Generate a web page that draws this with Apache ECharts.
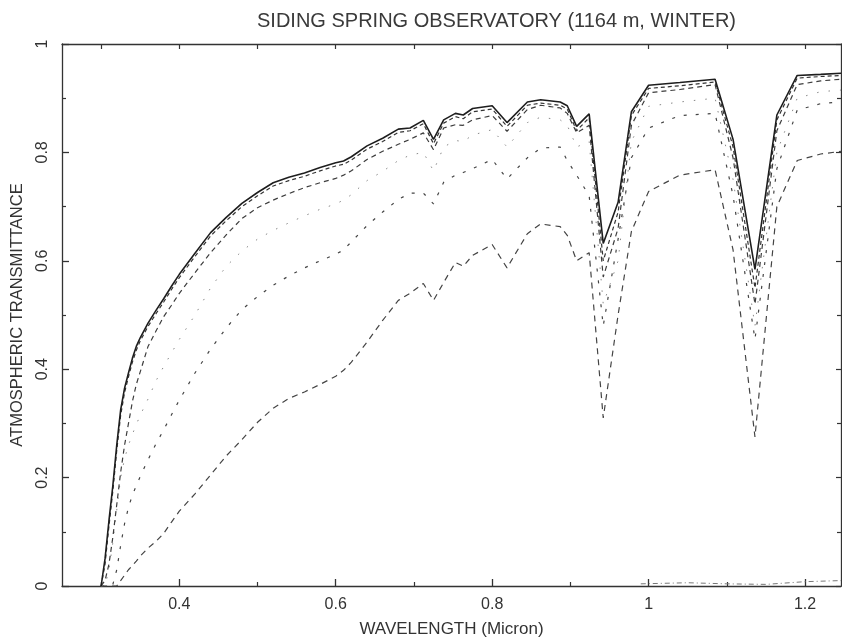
<!DOCTYPE html>
<html>
<head>
<meta charset="utf-8">
<script src="https://cdn.jsdelivr.net/npm/echarts@6/dist/echarts.min.js"></script>
<style>
  html, body { margin: 0; padding: 0; background: #fff; }
  #chart { width: 842px; height: 643px; }
</style>
</head>
<body>
<div id="chart"></div>
<script>
// ---- data ----
const titleText = 'SIDING SPRING OBSERVATORY (1164 m, WINTER)';
const xAxisTitle = 'WAVELENGTH (Micron)';
const yAxisTitle = 'ATMOSPHERIC TRANSMITTANCE';

const xMajorTicks = [0.4, 0.6, 0.8, 1.0, 1.2];
const xMinorTicks = [0.3, 0.5, 0.7, 0.9, 1.1];

// common wavelength grid (micron)
const wavelength = [
  0.300, 0.305, 0.310, 0.315, 0.320, 0.325, 0.330, 0.335, 0.340, 0.345,
  0.350, 0.360, 0.370, 0.380, 0.390, 0.400, 0.420, 0.440, 0.460, 0.480,
  0.500, 0.520, 0.540, 0.560, 0.580, 0.600, 0.610, 0.620, 0.640, 0.660,
  0.680, 0.695, 0.712, 0.725, 0.738, 0.753, 0.763, 0.775, 0.800, 0.819,
  0.845, 0.862, 0.887, 0.896, 0.908, 0.924, 0.942, 0.961, 0.978, 1.000,
  1.040, 1.085, 1.108, 1.136, 1.164, 1.190, 1.220, 1.246
];

// solid curve (top)
const curveA = [
  0.000, 0.050, 0.120, 0.185, 0.260, 0.325, 0.365, 0.393, 0.420, 0.442,
  0.458, 0.485, 0.508, 0.530, 0.553, 0.575, 0.614, 0.652, 0.680, 0.706,
  0.726, 0.744, 0.754, 0.762, 0.772, 0.781, 0.784, 0.792, 0.812, 0.826,
  0.843, 0.845, 0.859, 0.824, 0.860, 0.872, 0.869, 0.881, 0.886, 0.855,
  0.893, 0.897, 0.893, 0.886, 0.848, 0.871, 0.632, 0.708, 0.875, 0.924,
  0.929, 0.935, 0.824, 0.584, 0.869, 0.942, 0.944, 0.946
];
// dashed, hugging the solid
const curveB = [
  0.000, 0.040, 0.110, 0.175, 0.250, 0.315, 0.357, 0.386, 0.413, 0.435,
  0.452, 0.479, 0.502, 0.524, 0.547, 0.569, 0.608, 0.646, 0.674, 0.700,
  0.720, 0.738, 0.748, 0.756, 0.766, 0.775, 0.778, 0.786, 0.806, 0.820,
  0.837, 0.840, 0.853, 0.816, 0.854, 0.866, 0.862, 0.875, 0.880, 0.848,
  0.887, 0.891, 0.887, 0.880, 0.840, 0.864, 0.600, 0.690, 0.868, 0.918,
  0.923, 0.930, 0.810, 0.550, 0.860, 0.937, 0.940, 0.942
];
// dashed, slightly lower
const curveC = [
  0.000, 0.010, 0.040, 0.090, 0.150, 0.210, 0.260, 0.300, 0.340, 0.372,
  0.395, 0.442, 0.470, 0.497, 0.518, 0.540, 0.578, 0.615, 0.648, 0.678,
  0.698, 0.712, 0.724, 0.735, 0.744, 0.752, 0.758, 0.766, 0.787, 0.802,
  0.815, 0.824, 0.836, 0.805, 0.845, 0.851, 0.850, 0.860, 0.868, 0.839,
  0.879, 0.887, 0.882, 0.872, 0.836, 0.850, 0.570, 0.660, 0.850, 0.910,
  0.916, 0.925, 0.790, 0.520, 0.840, 0.925, 0.932, 0.935
];
// sparse dotted curve
const curveX = [
  0.000, 0.000, 0.030, 0.080, 0.140, 0.200, 0.235, 0.260, 0.280, 0.298,
  0.315, 0.345, 0.378, 0.405, 0.430, 0.455, 0.500, 0.550, 0.590, 0.618,
  0.640, 0.656, 0.670, 0.683, 0.695, 0.705, 0.712, 0.722, 0.748, 0.765,
  0.785, 0.795, 0.800, 0.766, 0.810, 0.822, 0.820, 0.832, 0.842, 0.810,
  0.855, 0.865, 0.860, 0.850, 0.810, 0.820, 0.520, 0.600, 0.820, 0.885,
  0.893, 0.900, 0.750, 0.480, 0.800, 0.900, 0.912, 0.915
];
// dashed, middle
const curveD = [
  0.000, 0.000, 0.000, 0.003, 0.030, 0.075, 0.115, 0.145, 0.168, 0.185,
  0.202, 0.233, 0.262, 0.288, 0.316, 0.343, 0.393, 0.437, 0.476, 0.510,
  0.534, 0.555, 0.572, 0.587, 0.600, 0.612, 0.620, 0.635, 0.665, 0.690,
  0.713, 0.725, 0.725, 0.705, 0.745, 0.758, 0.763, 0.770, 0.787, 0.751,
  0.790, 0.808, 0.810, 0.785, 0.758, 0.720, 0.480, 0.640, 0.790, 0.845,
  0.868, 0.872, 0.720, 0.455, 0.770, 0.878, 0.890, 0.893
];
// dashed, lowest
const curveE = [
  0.000, 0.000, 0.000, 0.000, 0.000, 0.010, 0.020, 0.030, 0.038, 0.046,
  0.055, 0.070, 0.082, 0.097, 0.118, 0.138, 0.170, 0.205, 0.240, 0.270,
  0.302, 0.328, 0.346, 0.358, 0.372, 0.387, 0.398, 0.413, 0.450, 0.490,
  0.527, 0.540, 0.558, 0.527, 0.560, 0.597, 0.590, 0.610, 0.630, 0.587,
  0.650, 0.668, 0.663, 0.647, 0.600, 0.615, 0.310, 0.500, 0.654, 0.728,
  0.758, 0.768, 0.620, 0.275, 0.700, 0.785, 0.797, 0.802
];
// faint trace along the bottom axis in the near-IR
const floorWl = [0.990, 1.050, 1.100, 1.150, 1.200, 1.246];
const floorT  = [0.004, 0.006, 0.004, 0.003, 0.008, 0.010];

// ---- chart ----
const pairs = (xs, ys) => xs.map((x, i) => [x, ys[i]]);
const FONT = 'Liberation Sans';
const axisCol = '#333';

function lineSeries(name, ys, xs, color, width, type) {
  return {
    name, type: 'line', xAxisIndex: 0, yAxisIndex: 0,
    data: pairs(xs, ys), showSymbol: false, symbol: 'none',
    lineStyle: { color, width, type }, clip: true, silent: true, z: 3
  };
}

const chart = echarts.init(document.getElementById('chart'), null, { renderer: 'canvas' });
const xMin = 0.25, xMax = 1.246;
chart.setOption({
  animation: false,
  backgroundColor: '#fff',
  title: {
    text: titleText, left: 252, top: 6,
    textStyle: { fontFamily: FONT, fontSize: 20, fontWeight: 'normal', color: '#3a3a3a' }
  },
  grid: { left: 62, right: 1, top: 44, bottom: 50, containLabel: false },
  xAxis: [
    {
      type: 'value', min: xMin, max: xMax, position: 'bottom',
      name: xAxisTitle, nameLocation: 'middle', nameGap: 35,
      nameTextStyle: { fontFamily: FONT, fontSize: 17, color: '#333' },
      axisLine: { show: true, onZero: false, lineStyle: { color: axisCol, width: 1.3 } },
      axisTick: { show: true, inside: true, length: 7, customValues: xMajorTicks, lineStyle: { color: axisCol, width: 1.3 } },
      axisLabel: { show: true, customValues: xMajorTicks, margin: 11, fontFamily: FONT, fontSize: 16, color: '#333' },
      splitLine: { show: false }
    },
    {
      type: 'value', min: xMin, max: xMax, position: 'bottom',
      axisLine: { show: false, onZero: false },
      axisTick: { show: true, inside: true, length: 4, customValues: xMinorTicks, lineStyle: { color: axisCol, width: 1.2 } },
      axisLabel: { show: false }, splitLine: { show: false }
    },
    {
      type: 'value', min: xMin, max: xMax, position: 'top',
      axisLine: { show: true, onZero: false, lineStyle: { color: axisCol, width: 1.3 } },
      axisTick: { show: true, inside: true, length: 5, customValues: xMajorTicks.concat(xMinorTicks), lineStyle: { color: axisCol, width: 1.2 } },
      axisLabel: { show: false }, splitLine: { show: false }
    }
  ],
  yAxis: [
    {
      type: 'value', min: 0, max: 1, interval: 0.2, position: 'left',
      name: yAxisTitle, nameLocation: 'middle', nameGap: 36, nameRotate: 90,
      nameTextStyle: { fontFamily: FONT, fontSize: 16.5, color: '#333' },
      axisLine: { show: true, onZero: false, lineStyle: { color: axisCol, width: 1.3 } },
      axisTick: { show: true, inside: true, length: 7, lineStyle: { color: axisCol, width: 1.3 } },
      minorTick: { show: true, splitNumber: 2, length: 4, lineStyle: { color: axisCol, width: 1.2 } },
      axisLabel: { show: true, rotate: 90, margin: 11, fontFamily: FONT, fontSize: 16, color: '#333' },
      splitLine: { show: false }
    },
    {
      type: 'value', min: 0, max: 1, interval: 0.2, position: 'right',
      axisLine: { show: true, onZero: false, lineStyle: { color: axisCol, width: 1.3 } },
      axisTick: { show: true, inside: true, length: 5, lineStyle: { color: axisCol, width: 1.2 } },
      minorTick: { show: true, splitNumber: 2, length: 4, lineStyle: { color: axisCol, width: 1.2 } },
      axisLabel: { show: false }, splitLine: { show: false }
    }
  ],
  series: [
    lineSeries('E', curveE, wavelength, '#444', 1.2, [6, 5]),
    lineSeries('D', curveD, wavelength, '#444', 1.2, [3, 9]),
    lineSeries('X', curveX, wavelength, '#888', 1.0, [1.5, 10]),
    lineSeries('C', curveC, wavelength, '#3d3d3d', 1.2, [5, 4]),
    lineSeries('B', curveB, wavelength, '#333', 1.2, [4, 3]),
    lineSeries('A', curveA, wavelength, '#1e1e1e', 1.6, 'solid'),
    lineSeries('floor', floorT, floorWl, '#777', 1.0, [5, 3, 1, 3])
  ]
});
</script>
</body>
</html>
